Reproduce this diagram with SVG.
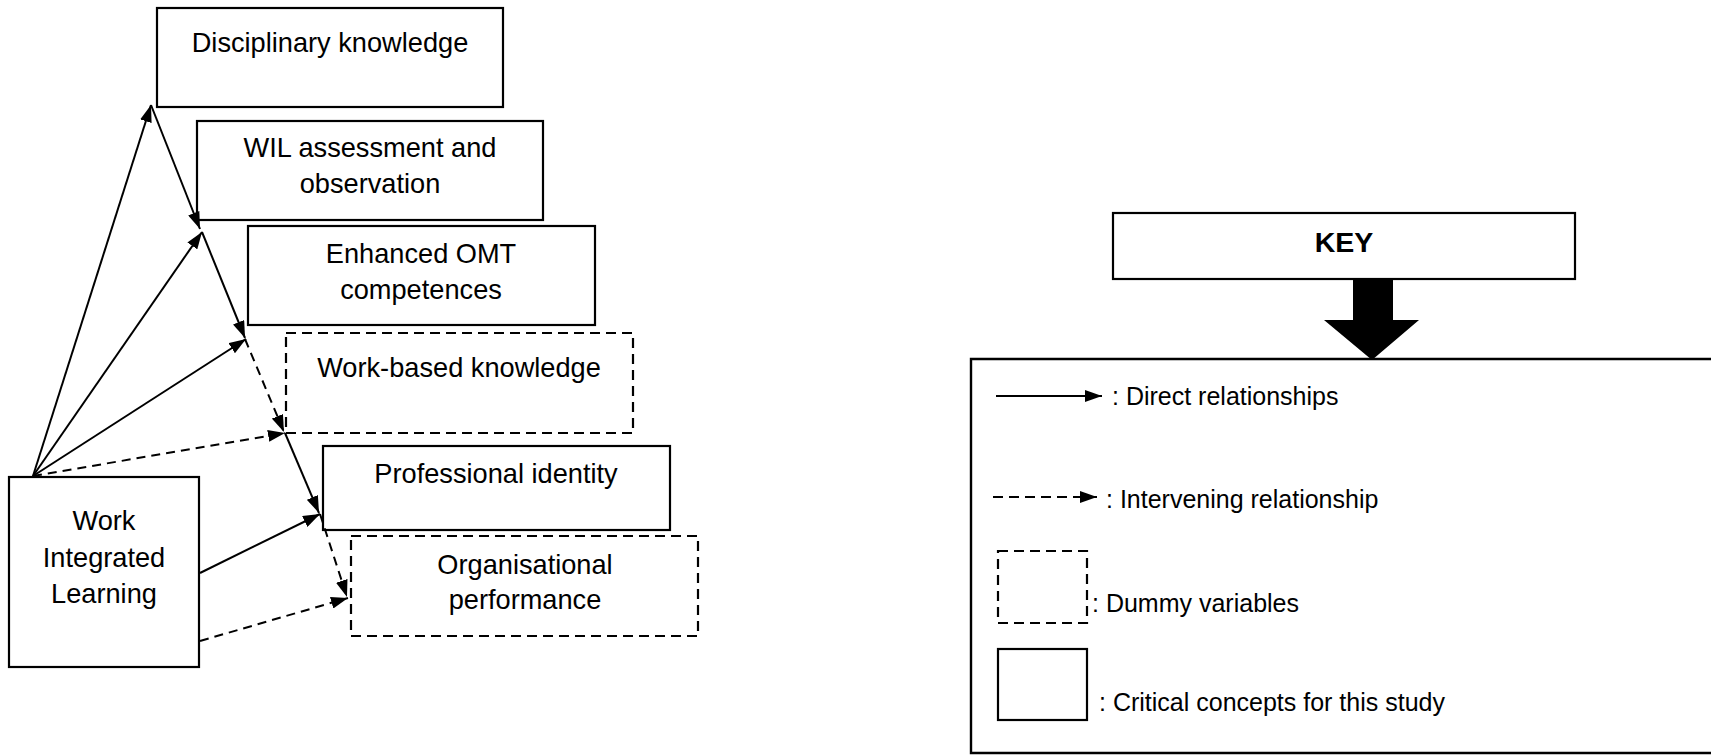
<svg xmlns="http://www.w3.org/2000/svg" width="1711" height="755" viewBox="0 0 1711 755">
<style>
  .box{fill:#fff;stroke:#000;stroke-width:2.2}
  .dbox{fill:#fff;stroke:#000;stroke-width:2.2;stroke-dasharray:10 6}
  .t{font-family:"Liberation Sans",Arial,sans-serif;font-size:27.2px;fill:#000;text-anchor:middle}
  .lt{font-family:"Liberation Sans",Arial,sans-serif;font-size:25px;fill:#000}
  .c{stroke:#000;stroke-width:2;fill:none}
  .d{stroke:#000;stroke-width:2;fill:none;stroke-dasharray:9 6}
</style>
<defs>
  <marker id="ah" viewBox="0 0 17 12" refX="17" refY="6" markerWidth="17" markerHeight="12" orient="auto" markerUnits="userSpaceOnUse">
    <path d="M0,0 L17,6 L0,12 z" fill="#000"/>
  </marker>
</defs>
<rect width="1711" height="755" fill="#fff"/>

<g id="n-disciplinary">
  <rect class="box" x="157" y="8" width="346" height="99"/>
  <text class="t" x="330" y="52">Disciplinary knowledge</text>
</g>
<g id="n-wil-assessment">
  <rect class="box" x="197" y="121" width="346" height="99"/>
  <text class="t" x="370" y="157">WIL assessment and</text>
  <text class="t" x="370" y="193">observation</text>
</g>
<g id="n-omt">
  <rect class="box" x="248" y="226" width="347" height="99"/>
  <text class="t" x="421" y="263">Enhanced OMT</text>
  <text class="t" x="421" y="299">competences</text>
</g>
<g id="n-workbased">
  <rect class="dbox" x="286" y="333" width="347" height="100"/>
  <text class="t" x="459" y="377">Work-based knowledge</text>
</g>
<g id="n-professional">
  <rect class="box" x="323" y="446" width="347" height="84"/>
  <text class="t" x="496" y="483">Professional identity</text>
</g>
<g id="n-organisational">
  <rect class="dbox" x="351" y="536" width="347" height="100"/>
  <text class="t" x="525" y="574">Organisational</text>
  <text class="t" x="525" y="609">performance</text>
</g>
<g id="n-wil">
  <rect class="box" x="9" y="477" width="190" height="190"/>
  <text class="t" x="104" y="530">Work</text>
  <text class="t" x="104" y="567">Integrated</text>
  <text class="t" x="104" y="603">Learning</text>
</g>

<g id="connectors">
  <line class="c" x1="33" y1="476" x2="151" y2="105" marker-end="url(#ah)"/>
  <line class="c" x1="33" y1="476" x2="202" y2="232" marker-end="url(#ah)"/>
  <line class="c" x1="33" y1="476" x2="246" y2="339" marker-end="url(#ah)"/>
  <line class="d" x1="33" y1="476" x2="285" y2="433" marker-end="url(#ah)"/>
  <line class="c" x1="151" y1="105" x2="200" y2="229" marker-end="url(#ah)"/>
  <line class="c" x1="202" y1="232" x2="245" y2="338" marker-end="url(#ah)"/>
  <line class="d" x1="245" y1="339" x2="284" y2="432" marker-end="url(#ah)"/>
  <line class="c" x1="285" y1="433" x2="319" y2="513" marker-end="url(#ah)"/>
  <line class="d" x1="320" y1="514" x2="347" y2="597" marker-end="url(#ah)"/>
  <line class="c" x1="200" y1="573" x2="320" y2="514" marker-end="url(#ah)"/>
  <line class="d" x1="200" y1="641" x2="348" y2="598" marker-end="url(#ah)"/>
</g>

<g id="key">
  <rect class="box" x="1113" y="213" width="462" height="66"/>
  <text x="1344" y="252" style="font-family:'Liberation Sans',Arial,sans-serif;font-size:28.5px;font-weight:bold;text-anchor:middle">KEY</text>
  <path d="M1353,279 L1393,279 L1393,320 L1419,320 L1372,360 L1324,320 L1353,320 z" fill="#000"/>
</g>

<g id="legend">
  <path d="M1720,359 L971,359 L971,753 L1720,753" class="c" style="stroke-width:2.4"/>
  <line class="c" x1="996" y1="396" x2="1102" y2="396" marker-end="url(#ah)"/>
  <text class="lt" x="1112" y="405">: Direct relationships</text>
  <line class="c" x1="993" y1="497" x2="1097" y2="497" style="stroke-dasharray:10 6" marker-end="url(#ah)"/>
  <text class="lt" x="1106" y="508">: Intervening relationship</text>
  <rect class="dbox" x="998" y="551" width="89" height="72"/>
  <text class="lt" x="1092" y="612">: Dummy variables</text>
  <rect class="box" x="998" y="649" width="89" height="71"/>
  <text class="lt" x="1099" y="711">: Critical concepts for this study</text>
</g>
</svg>
